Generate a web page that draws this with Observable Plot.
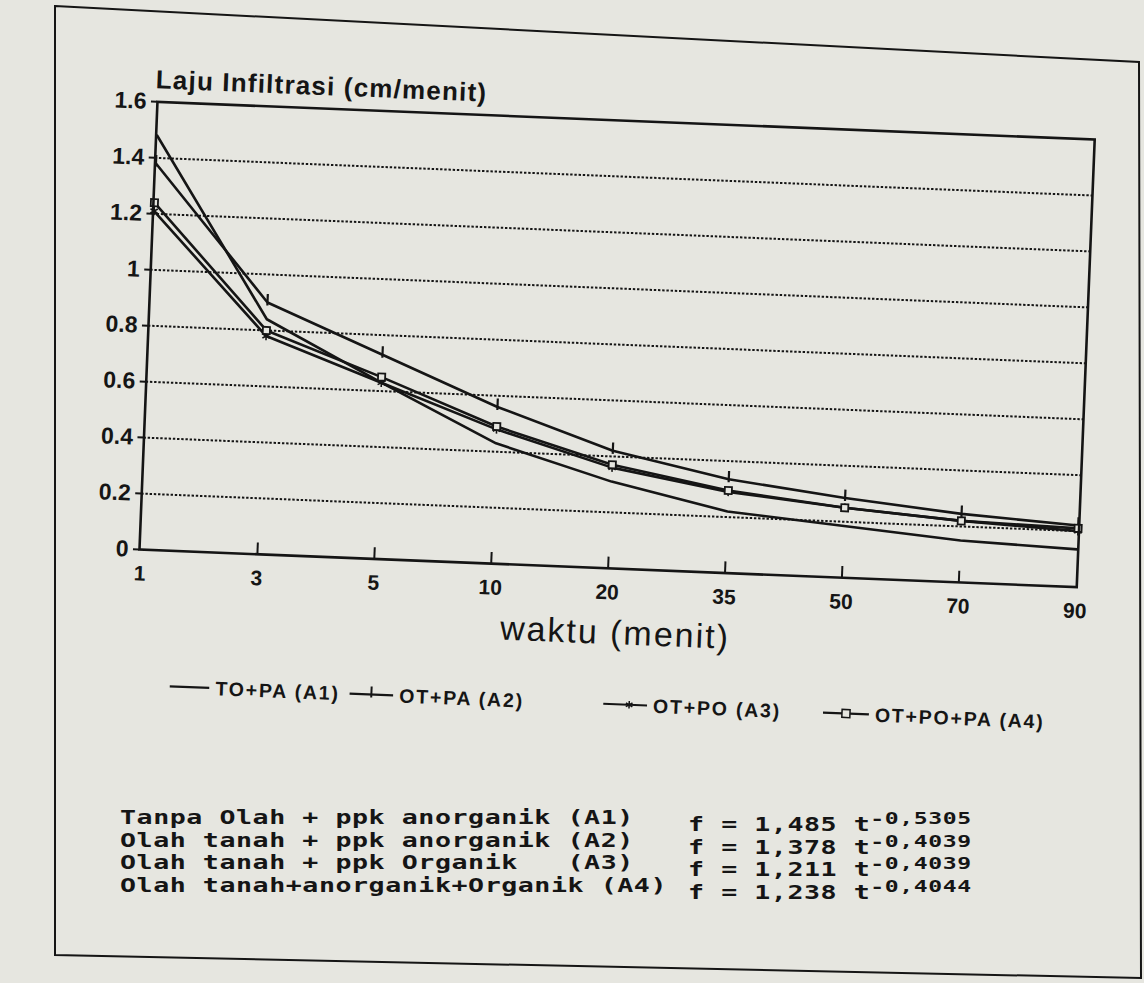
<!DOCTYPE html>
<html>
<head>
<meta charset="utf-8">
<script src="https://cdn.jsdelivr.net/npm/d3@7"></script>
<script src="https://cdn.jsdelivr.net/npm/@observablehq/plot@0.6"></script>
<style>
  html, body { margin: 0; padding: 0; background: #e6e6e0; }
  body { width: 1144px; height: 983px; position: relative; overflow: hidden;
         font-family: "Liberation Sans", Arial, Helvetica, sans-serif; color: #151515; }
  #rot { position: absolute; left: 0; top: 0; width: 1144px; height: 983px;
         transform: rotate(2.3deg); transform-origin: 139px 549px; }
  #chart { position: absolute; left: 0; top: 0; }
  #ytitle { position: absolute; left: 137px; top: 66px; line-height: 26px; font-size: 26px;
            font-weight: bold; letter-spacing: 1.2px; white-space: nowrap; }
  #xtitle { position: absolute; left: 618px; top: 596px; transform: translateX(-50%);
            font-size: 34px; line-height: 34px; letter-spacing: 2px; white-space: nowrap; }
  .leg { position: absolute; top: 673px; height: 24px; display: flex; align-items: center; white-space: nowrap;
         font-weight: bold; font-size: 19.5px; letter-spacing: 1.8px; }
  .leg svg { margin-right: 6px; }
  .eqd, .eqf { position: absolute; white-space: pre; line-height: 22.5px;
               font-family: "DejaVu Sans Mono", "Liberation Mono", monospace; font-weight: bold;
               font-size: 19px; letter-spacing: 0.4px; transform: scaleX(1.4); transform-origin: 0 0; }
  .eqf .sup { font-size: 16.5px; position: relative; top: -7px; }
  #frame { position: absolute; left: 0; top: 0; }
</style>
</head>
<body>
<div id="rot">
  <div id="chart"></div>
  <div id="ytitle"></div>
  <div id="xtitle"></div>
</div>
<div id="eq"></div>
<script>
// ---- data ----
const times = ["1", "3", "5", "10", "20", "35", "50", "70", "90"];
const seriesKeys = ["A1", "A2", "A3", "A4"];
const a1 = [1.48, 0.84, 0.63, 0.43, 0.31, 0.22, 0.185, 0.15, 0.135];
const a2 = [1.38, 0.90, 0.73, 0.56, 0.42, 0.335, 0.285, 0.245, 0.22];
const a3 = [1.21, 0.78, 0.63, 0.48, 0.36, 0.29, 0.25, 0.22, 0.20];
const a4 = [1.24, 0.80, 0.65, 0.49, 0.37, 0.295, 0.25, 0.22, 0.21];
const legendLabels = ["TO+PA (A1)", "OT+PA (A2)", "OT+PO (A3)", "OT+PO+PA (A4)"];
const yTicks = [0, 0.2, 0.4, 0.6, 0.8, 1, 1.2, 1.4, 1.6];
const gridTicks = [0.2, 0.4, 0.6, 0.8, 1, 1.2, 1.4];
const yTitle = "Laju Infiltrasi (cm/menit)";
const xTitle = "waktu (menit)";
const eqDesc = [
  "Tanpa Olah + ppk anorganik (A1)",
  "Olah tanah + ppk anorganik (A2)",
  "Olah tanah + ppk Organik   (A3)",
  "Olah tanah+anorganik+Organik (A4)"
];
const eqCoef = ["1,485", "1,378", "1,211", "1,238"];
const eqExp = ["-0,5305", "-0,4039", "-0,4039", "-0,4044"];

// ---- build rows ----
const valuesByKey = {A1: a1, A2: a2, A3: a3, A4: a4};
const rows = seriesKeys.flatMap(k => times.map((t, i) => ({t, v: valuesByKey[k][i], s: k})));

const INK = "#151515";
const PAPER = "#e6e6e0";

const tickSymbol = {
  draw(context, size) {
    const r = Math.sqrt(size / Math.PI);
    context.moveTo(0, -1.4 * r);
    context.lineTo(0, 0.5 * r);
  }
};

const chart = Plot.plot({
  width: 1144,
  height: 640,
  marginLeft: 139,
  marginRight: 67,
  marginTop: 101,
  marginBottom: 91,
  x: {type: "point", domain: times, padding: 0, label: null},
  y: {domain: [0, 1.6], label: null},
  style: {background: "transparent", color: INK, fontFamily: "'Liberation Sans', Arial, sans-serif", overflow: "visible"},
  marks: [
    Plot.ruleY(gridTicks, {stroke: INK, strokeWidth: 2, strokeDasharray: "2.4,1.8"}),
    Plot.axisY(yTicks, {tickSize: 6, tickPadding: 5, tickFormat: d => String(d), fontSize: 23, fontWeight: "bold", label: null, strokeWidth: 2}),
    Plot.axisX(times, {tickSize: 0, tickPadding: 16, fontSize: 21, fontWeight: "bold", label: null}),
    Plot.ruleX(times.slice(1, -1), {x: d => d, y1: 0, y2: 0.04, stroke: INK, strokeWidth: 2}),
    Plot.line(rows, {x: "t", y: "v", z: "s", stroke: INK, strokeWidth: 2.6}),
    Plot.dot(rows.filter(d => d.s === "A2"), {x: "t", y: "v", symbol: tickSymbol, r: 6, fill: "none", stroke: INK, strokeWidth: 2.2}),
    Plot.dot(rows.filter(d => d.s === "A3"), {x: "t", y: "v", symbol: "asterisk", r: 4, stroke: INK, strokeWidth: 1.6}),
    Plot.dot(rows.filter(d => d.s === "A4"), {x: "t", y: "v", symbol: "square", r: 4, fill: PAPER, stroke: INK, strokeWidth: 1.8}),
    Plot.frame({stroke: INK, strokeWidth: 2.6})
  ]
});
document.getElementById("chart").appendChild(chart);
document.getElementById("ytitle").textContent = yTitle;
document.getElementById("xtitle").textContent = xTitle;

// ---- legend ----
const rot = d3.select("#rot");
const legX = [175, 355, 609, 829];
const swW = [40, 44, 44, 46];
legendLabels.forEach((lab, i) => {
  const item = rot.append("div").attr("class", "leg").style("left", legX[i] + "px");
  const w = swW[i];
  const svg = item.append("svg").attr("width", w).attr("height", 24);
  svg.append("line").attr("x1", 0).attr("x2", w).attr("y1", 12).attr("y2", 12)
     .attr("stroke", INK).attr("stroke-width", 2.2);
  const cx = w / 2;
  if (i === 1) {
    svg.append("line").attr("x1", cx).attr("x2", cx).attr("y1", 4).attr("y2", 15).attr("stroke", INK).attr("stroke-width", 2);
  } else if (i === 2) {
    svg.append("path").attr("transform", `translate(${cx + 4},12)`)
       .attr("d", d3.symbol(d3.symbolAsterisk, 40)()).attr("stroke", INK).attr("stroke-width", 1.5).attr("fill", "none");
  } else if (i === 3) {
    svg.append("rect").attr("x", cx - 4).attr("y", 8).attr("width", 8).attr("height", 8)
       .attr("fill", PAPER).attr("stroke", INK).attr("stroke-width", 1.5);
  }
  item.append("span").text(lab);
});

// ---- equations ----
const eq = d3.select("#eq");
const eqTop = [806, 828.5, 851, 873.5];
eqDesc.forEach((d, i) => {
  eq.append("div").attr("class", "eqd").style("left", "120px").style("top", eqTop[i] + "px").text(d);
  const f = eq.append("div").attr("class", "eqf").style("left", "688px").style("top", (eqTop[i] + 7) + "px");
  f.append("span").text("f = " + eqCoef[i] + " t");
  f.append("span").attr("class", "sup").text(eqExp[i]);
});

// ---- outer page frame (decoration) ----
const frame = d3.select("body").append("svg").attr("id", "frame").attr("width", 1144).attr("height", 983);
frame.append("polygon").attr("points", "55,6 1139,62 1141,978 55,955")
  .attr("fill", "none").attr("stroke", INK).attr("stroke-width", 2);
</script>
</body>
</html>
